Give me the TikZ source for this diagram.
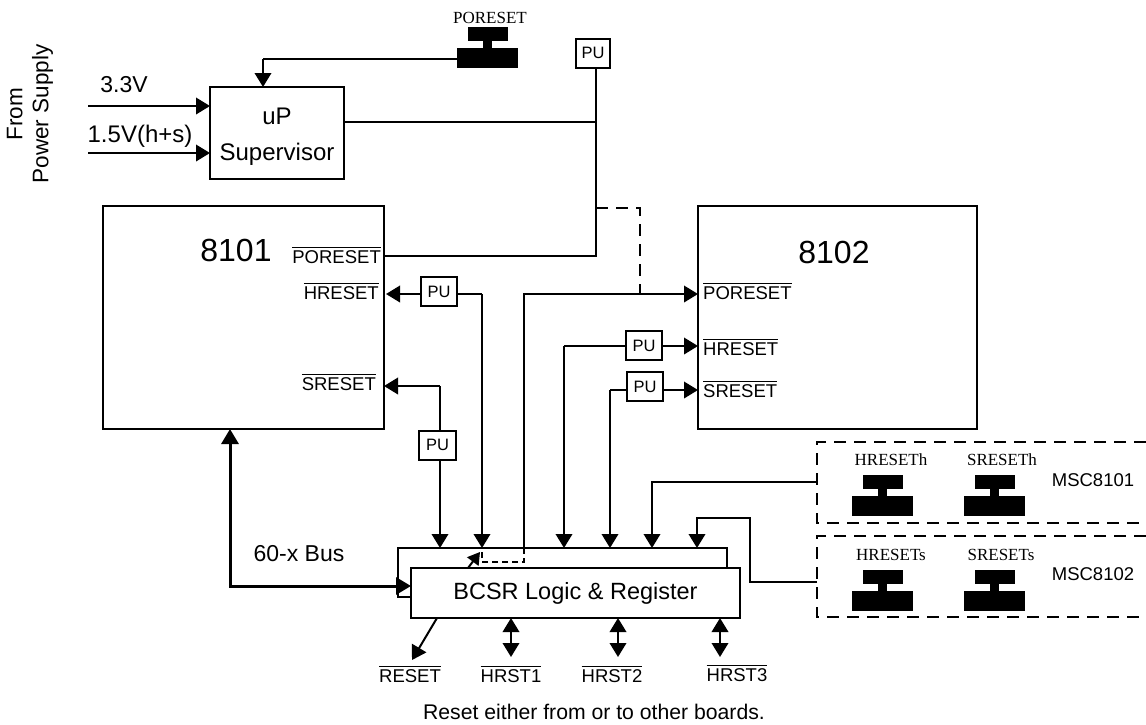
\documentclass[tikz,border=0pt]{standalone}
\usepackage{fontspec}
\usepackage{amsmath}
\usetikzlibrary{arrows.meta}
\setmainfont{Liberation Sans}
\newfontfamily\btnfont{Liberation Serif}
\newcommand{\barred}[1]{\ensuremath{\overline{\mbox{#1}}}}
% Push button: base is the named node, cap and stem sit on top of it
\newcommand{\pushbutton}[3]{%
    \node[btnbase] (#1) at (#2+30.5,#3+31) {};
    \node[btnstem] (#1stem) at (#2+30.5,#3+17.5) {};
    \node[btncap] (#1cap) at (#2+30.5,#3+7) {};
}
\tikzset{
    wire/.style={line width=2pt},
    sig/.style={wire, -{Triangle[length=14pt,width=16.5pt]}},
    twosig/.style={wire, {Triangle[length=14pt,width=16.5pt]}-{Triangle[length=14pt,width=16.5pt]}},
    busline/.style={line width=3pt, {Triangle[length=15pt,width=17pt]}-{Triangle[length=15pt,width=17pt]}},
    dashwire/.style={wire, dash pattern=on 12pt off 8pt},
    box/.style={draw, line width=2pt, inner sep=0pt, outer sep=0pt, align=center},
    pubox/.style={box, minimum width=36pt, minimum height=29pt, font=\fontsize{16.5}{18}\selectfont},
    bigtext/.style={inner sep=0pt, font=\fontsize{23}{26}\selectfont},
    chiptext/.style={inner sep=0pt, font=\fontsize{32}{36}\selectfont},
    pintext/.style={inner sep=0pt, font=\fontsize{18.5}{20}\selectfont},
    btnbase/.style={fill=black, inner sep=0pt, minimum width=61pt, minimum height=20pt},
    btnstem/.style={fill=black, inner sep=0pt, minimum width=9pt, minimum height=8pt},
    btncap/.style={fill=black, inner sep=0pt, minimum width=40pt, minimum height=14pt},
    btnlabel/.style={inner sep=0pt, font=\btnfont\fontsize{17}{19}\selectfont},
}
\begin{document}
\begin{tikzpicture}[x=1pt,y=-1pt]
    \useasboundingbox (0,0) rectangle (1146,724);

    % Supervisor and the two big chips
    \node[box, minimum width=134pt, minimum height=92pt, font=\fontsize{24}{36}\selectfont] (superv) at (277,133) {\rule{0pt}{24pt}uP\\Supervisor};
    \node[box, minimum width=281pt, minimum height=223pt] (chipa) at (243.5,317.5) {};
    \node[box, minimum width=279pt, minimum height=223pt] (chipb) at (837.5,317.5) {};
    \node[chiptext] (chipalabel) at (236,250) {8101};
    \node[chiptext] (chipblabel) at (834,252) {8102};
    \node[box, minimum width=329pt, minimum height=50pt, font=\fontsize{23.5}{26}\selectfont] (bcsr) at (575.5,593) {BCSR Logic \& Register};

    % Pull-ups
    \node[pubox, minimum width=34pt] (pupor) at (593,53) {PU};
    \node[pubox] (puhra) at (439,291.5) {PU};
    \node[pubox, minimum width=37pt] (pusra) at (437.5,445) {PU};
    \node[pubox] (puhrb) at (644,345.5) {PU};
    \node[pubox] (pusrb) at (645,386.5) {PU};

    % Pin names on the chips
    \node[pintext, anchor=east] (porpina) at (381,255) {\barred{PORESET}};
    \node[pintext, anchor=east] (hrpina) at (379,291) {\barred{HRESET}};
    \node[pintext, anchor=east] (srpina) at (376,382) {\barred{SRESET}};
    \node[pintext, anchor=west] (porpinb) at (703,291) {\barred{PORESET}};
    \node[pintext, anchor=west] (hrpinb) at (703,347) {\barred{HRESET}};
    \node[pintext, anchor=west] (srpinb) at (703,389) {\barred{SRESET}};

    % Supply inputs
    \node[bigtext, rotate=90, align=center, font=\fontsize{22.5}{26}\selectfont] (supply) at (30,114) {From\\Power Supply};
    \node[bigtext] (vcore) at (124,85) {3.3V};
    \node[bigtext, font=\fontsize{24}{26}\selectfont] (vpll) at (140,136) {1.5V(h+s)};
    \coordinate (vcorein) at (88,106);
    \coordinate (vpllin) at (88,153);
    \draw[sig] (vcorein) -- (vcorein -| superv.west);
    \draw[sig] (vpllin) -- (vpllin -| superv.west);

    % Power-on button into the supervisor
    \pushbutton{btnpor}{457}{27}
    \node[btnlabel] (btnporlabel) at (490,18) {PORESET};
    \coordinate (porcorner) at (263,59);
    \draw[wire] (btnpor.west |- porcorner) -- (porcorner);
    \draw[sig] (porcorner) -- (porcorner |- superv.north);

    % Power-on reset net
    \coordinate (pufoot) at (596,67);
    \coordinate (porjoin) at (596,122);
    \coordinate (porbend) at (596,256);
    \coordinate (dashtop) at (596,208);
    \coordinate (dashbend) at (640,208);
    \coordinate (porfeed) at (524,294);
    \draw[wire] (pufoot) -- (porbend) -- (porbend -| chipa.east);
    \draw[wire] (superv.east |- porjoin) -- (porjoin);
    \draw[dashwire] (dashtop) -- (dashbend) -- (dashbend |- porfeed);

    % Lines to and from the 8101
    \coordinate (hraleg) at (482,294);
    \coordinate (sraleg) at (440,386);
    \coordinate (framebl) at (398,597);
    \coordinate (frametl) at (398,548);
    \coordinate (frametr) at (727,548);
    \coordinate (hratip) at (386,294);
    \draw[sig] (puhra.west |- hraleg) -- (hratip);
    \draw[wire] (puhra.east |- hraleg) -- (hraleg);
    \draw[sig] (hraleg) -- (hraleg |- frametl);
    \draw[wire] (sraleg |- pusra.north) -- (sraleg);
    \draw[sig] (sraleg) -- (sraleg -| chipa.east);
    \draw[sig] (sraleg |- pusra.south) -- (sraleg |- frametl);

    % Lines to the 8102
    \coordinate (hrbleg) at (564,346);
    \coordinate (srbleg) at (610,390);
    \draw[sig] (porfeed |- frametl) -- (porfeed) -- (porfeed -| chipb.west);
    \draw[sig] (puhrb.east |- hrbleg) -- (hrbleg -| chipb.west);
    \draw[wire] (puhrb.west |- hrbleg) -- (hrbleg);
    \draw[sig] (hrbleg) -- (hrbleg |- frametl);
    \draw[sig] (pusrb.east |- srbleg) -- (srbleg -| chipb.west);
    \draw[wire] (pusrb.west |- srbleg) -- (srbleg);
    \draw[sig] (srbleg) -- (srbleg |- frametl);

    % Frame around the top of the logic block
    \draw[wire] (bcsr.north -| frametr) -- (frametr) -- (frametl) -- (framebl) -- (framebl -| bcsr.west);
    \coordinate (dashlow) at (524,562);
    \draw[wire, dash pattern=on 6pt off 4pt] (porfeed |- frametl) -- (dashlow) -- (dashlow -| hraleg) -- (hraleg |- frametl);
    \coordinate (slanttip) at (480,552);
    \coordinate (slantfoot) at (468,568);
    \draw[wire, -{Triangle[length=12pt,width=14pt]}] (slantfoot) -- (slanttip);

    % System bus
    \node[bigtext] (buslabel) at (299,554) {60-x Bus};
    \coordinate (buscorner) at (230,586);
    \draw[busline] (buscorner |- chipa.south) -- (buscorner) -- (buscorner -| bcsr.west);

    % Board level reset lines
    \coordinate (resetend) at (412,660);
    \coordinate (resetfoot) at (437,618);
    \draw[sig] (resetfoot) -- (resetend);
    \node[pintext] (resetpin) at (410,674) {\barred{RESET}};
    \foreach \n/\xa/\xl/\yl in {1/511/511/674,2/618/612/674,3/720/737/673}
    {
        \coordinate (hrstend\n) at (\xa,657);
        \draw[twosig] (hrstend\n |- bcsr.south) -- (hrstend\n);
        \node[pintext] (hrst\n) at (\xl,\yl) {\barred{HRST\n}};
    }
    \node[inner sep=0pt, font=\fontsize{21.2}{24}\selectfont] (note) at (594,712) {Reset either from or to other boards.};

    % Dashed groups of buttons, open at the right edge
    \coordinate (grpaleft) at (817,482);
    \coordinate (grpbleft) at (817,582);
    \draw[dashwire] (1146,442) -- (817,442) -- (817,523) -- (1146,523);
    \draw[dashwire] (1146,536) -- (817,536) -- (817,617) -- (1146,617);

    \pushbutton{btnhh}{852}{475}
    \pushbutton{btnsh}{964}{475}
    \pushbutton{btnhs}{852}{570}
    \pushbutton{btnss}{964}{570}
    \node[btnlabel] (btnhhlabel) at (891,460) {HRESETh};
    \node[btnlabel] (btnshlabel) at (1002,460) {SRESETh};
    \node[btnlabel] (btnhslabel) at (891,555) {HRESETs};
    \node[btnlabel] (btnsslabel) at (1001,555) {SRESETs};
    \node[pintext] (msca) at (1093,480) {MSC8101};
    \node[pintext] (mscb) at (1093,574) {MSC8102};

    % Group lines back to the logic block
    \coordinate (grpabend) at (652,482);
    \coordinate (grpbtop) at (697,518);
    \coordinate (grpbmid) at (750,518);
    \draw[sig] (grpaleft) -- (grpabend) -- (grpabend |- frametl);
    \draw[sig] (grpbleft) -- (grpbleft -| grpbmid) -- (grpbmid) -- (grpbtop) -- (grpbtop |- frametl);
\end{tikzpicture}
\end{document}
